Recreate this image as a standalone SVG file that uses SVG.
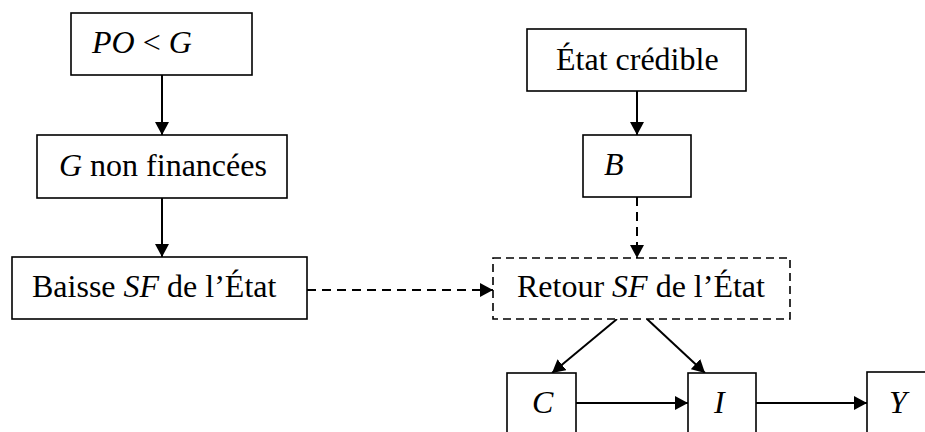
<svg xmlns="http://www.w3.org/2000/svg" width="925" height="432" viewBox="0 0 925 432">
<style>
.box{fill:#fff;stroke:#000;stroke-width:1.6}
.dbox{fill:#fff;stroke:#000;stroke-width:1.6;stroke-dasharray:8 5}
.t{font-family:"Liberation Serif","Times New Roman",serif;font-size:32px;fill:#000}
.i{font-style:italic}
.c{fill:none;stroke:#000;stroke-width:2;marker-end:url(#ah)}
.d{stroke-dasharray:9 6}
</style>
<defs>
<marker id="ah" markerUnits="userSpaceOnUse" markerWidth="14" markerHeight="14" refX="13" refY="7" orient="auto">
<path d="M0,0 L13,7 L0,14 z" fill="#000"/>
</marker>
</defs>
<g id="connectors">
<line class="c" x1="162" y1="75" x2="162" y2="135"/>
<line class="c" x1="162" y1="198" x2="162" y2="257"/>
<line class="c d" x1="307" y1="290" x2="493" y2="290"/>
<line class="c" x1="637" y1="91" x2="637" y2="135"/>
<line class="c d" x1="637" y1="197" x2="637" y2="258"/>
<line class="c" x1="617" y1="319" x2="552" y2="373"/>
<line class="c" x1="647" y1="319" x2="705" y2="373"/>
<line class="c" x1="576" y1="403" x2="688" y2="403"/>
<line class="c" x1="756" y1="403" x2="867" y2="403"/>
</g>
<g id="n-po">
<rect class="box" x="71" y="13" width="181" height="62"/>
<text class="t i" x="92" y="53">PO <tspan font-style="normal">&lt;</tspan> G</text>
</g>
<g id="n-g">
<rect class="box" x="37" y="135" width="250" height="63"/>
<text class="t" x="59" y="176"><tspan class="i">G</tspan> non financées</text>
</g>
<g id="n-baisse">
<rect class="box" x="12" y="257" width="295" height="62"/>
<text class="t" x="32" y="297">Baisse <tspan class="i">SF</tspan> de l’État</text>
</g>
<g id="n-etat">
<rect class="box" x="527" y="29" width="219" height="62"/>
<text class="t" x="556" y="70">État crédible</text>
</g>
<g id="n-b">
<rect class="box" x="583" y="135" width="108" height="62"/>
<text class="t i" x="604" y="175">B</text>
</g>
<g id="n-retour">
<rect class="dbox" x="493" y="258" width="297" height="61"/>
<text class="t" x="517" y="297">Retour <tspan class="i">SF</tspan> de l’État</text>
</g>
<g id="n-c">
<rect class="box" x="507" y="373" width="69" height="70"/>
<text class="t i" x="532" y="413">C</text>
</g>
<g id="n-i">
<rect class="box" x="688" y="373" width="68" height="70"/>
<text class="t i" x="714" y="413">I</text>
</g>
<g id="n-y">
<rect class="box" x="867" y="372" width="70" height="70"/>
<text class="t i" x="889" y="413">Y</text>
</g>
</svg>
